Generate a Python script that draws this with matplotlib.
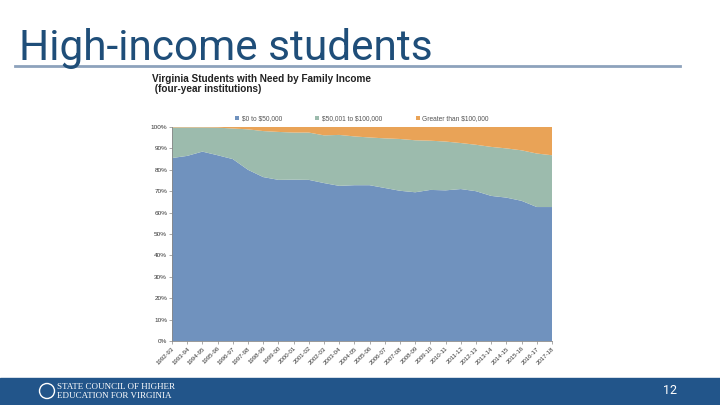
import numpy as np
import matplotlib
matplotlib.use("Agg")
import matplotlib.pyplot as plt
from matplotlib.patches import Rectangle, Ellipse

# academic years on the x axis
years = ["1992-93", "1993-94", "1994-95", "1995-96", "1996-97", "1997-98",
         "1998-99", "1999-00", "2000-01", "2001-02", "2002-03", "2003-04",
         "2004-05", "2005-06", "2006-07", "2007-08", "2008-09", "2009-10",
         "2010-11", "2011-12", "2012-13", "2013-14", "2014-15", "2015-16",
         "2016-17", "2017-18"]

# share of students with need, percent
low_income = [85.5, 86.5, 88.5, 86.8, 85.0, 80.0, 76.6, 75.3, 75.4, 75.3,
              73.8, 72.5, 72.8, 72.8, 71.5, 70.2, 69.5, 70.6, 70.4, 71.0,
              70.0, 67.8, 67.0, 65.5, 62.6, 62.6]
mid_income = [14.3, 13.3, 11.3, 12.9, 14.3, 18.9, 21.5, 22.4, 22.0, 22.1,
              22.3, 23.8, 22.8, 22.3, 23.2, 24.2, 24.3, 23.0, 22.8, 21.5,
              21.7, 22.9, 23.0, 23.6, 25.0, 24.2]
high_income = [100 - a - b for a, b in zip(low_income, mid_income)]

series_labels = [r"\$0 to \$50,000", r"\$50,001 to \$100,000", r"Greater than \$100,000"]
colors = ["#7092BE", "#9CBBAD", "#E9A357"]

fig = plt.figure(figsize=(7.2, 4.05), dpi=100)

# slide title and rule
fig.text(19 / 720, 1 - 60 / 405, "High-income students", fontsize=30.5,
         family="Roboto", color="#1F4E79", va="baseline", ha="left")
fig.add_artist(plt.Line2D([15 / 720, 680 / 720], [1 - 66 / 405] * 2,
                          color="#8DA2BC", lw=2))

# chart title
fig.text(152 / 720, 1 - 84 / 405, "Virginia Students with Need by Family Income\n (four-year institutions)",
         fontsize=7.2, weight="bold", family="Liberation Sans", color="#222222",
         va="center", ha="left", linespacing=1.1)

ax = fig.add_axes([172 / 720, 1 - 341 / 405, 380 / 720, 214 / 405])
x = np.arange(len(years))
ax.stackplot(x, low_income, mid_income, high_income, colors=colors,
             labels=series_labels, lw=0)
ax.set_xlim(0, len(years) - 1)
ax.set_ylim(0, 100)
ax.set_yticks(range(0, 101, 10))
ax.set_yticklabels([f"{v}%" for v in range(0, 101, 10)], fontsize=4.6,
                   family="Liberation Sans", color="#333333")
ax.set_xticks(x)
ax.set_xticklabels(years, rotation=45, ha="right", rotation_mode="anchor",
                   fontsize=4.4, family="Liberation Sans", color="#333333")
ax.tick_params(length=2, width=0.5, colors="#888888", pad=1.5)
for lbl in ax.get_xticklabels() + ax.get_yticklabels():
    lbl.set_color("#333333")
for s in ["top", "right"]:
    ax.spines[s].set_visible(False)
for s in ["left", "bottom"]:
    ax.spines[s].set_color("#888888")
    ax.spines[s].set_linewidth(0.6)

leg = ax.legend(loc="lower center", bbox_to_anchor=(0.5, 1.0), ncol=3, frameon=False,
                handlelength=0.6, handleheight=0.6, columnspacing=5,
                handletextpad=0.4, borderaxespad=0.3,
                prop={"family": "Liberation Sans", "size": 4.8})
for t in leg.get_texts():
    t.set_color("#555555")

# footer band
fig.add_artist(Rectangle((0, 0), 1, 27 / 405, transform=fig.transFigure,
                         color="#22558A", zorder=0))
fig.add_artist(Ellipse((47 / 720, 14 / 405), 15 / 720, 15 / 405, transform=fig.transFigure,
                       fc="none", ec="white", lw=1))
fig.text(57 / 720, 18 / 405, "STATE COUNCIL OF HIGHER", fontsize=6.5, family="Liberation Serif",
         color="white", va="center", ha="left")
fig.text(57 / 720, 9 / 405, "EDUCATION FOR VIRGINIA", fontsize=6.5, family="Liberation Serif",
         color="white", va="center", ha="left")
fig.text(670 / 720, 14 / 405, "12", fontsize=9, family="Roboto", color="white",
         va="center", ha="center")

fig.savefig("out.png", dpi=100)
